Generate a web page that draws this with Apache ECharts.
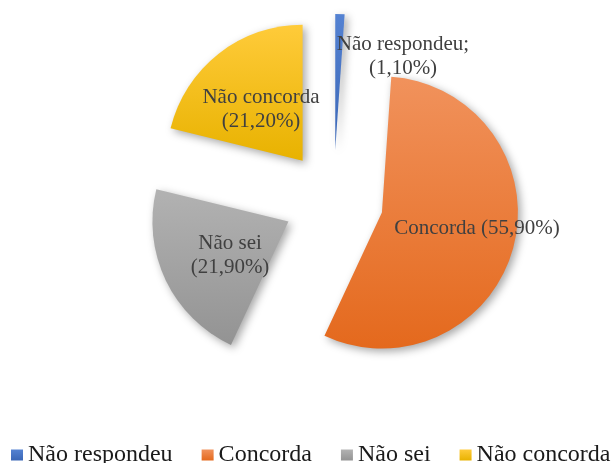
<!DOCTYPE html>
<html>
<head>
<meta charset="utf-8">
<script src="https://cdn.jsdelivr.net/npm/echarts@6/dist/echarts.min.js"></script>
<style>
  html, body { margin: 0; padding: 0; background: #fff; }
  #chart { width: 611px; height: 463px; }
</style>
</head>
<body>
<div id="chart"></div>
<script>
var categories = ['Não respondeu', 'Concorda', 'Não sei', 'Não concorda'];
var values = [1.1, 55.9, 21.9, 21.2];
// text between name and percentage in each slice label
var labelSeps = [';\n', ' ', '\n', '\n'];
var colorsTop = ['#5482d2', '#f1925c', '#b2b2b2', '#ffcb3a'];
var colorsBottom = ['#3a66b6', '#e4691d', '#939393', '#e8b200'];
// centre of each label text block
var labelPos = [[403, 56], [477, 228], [230, 255], [261, 109]];

function grad(i){
	return new echarts.graphic.LinearGradient(0, 0, 0, 1, [
		{offset: 0, color: colorsTop[i]},
		{offset: 1, color: colorsBottom[i]}
	]);
}

var chart = echarts.init(document.getElementById('chart'));

var pieData = [];
var labelData = [];
for(var i=0; i<categories.length; i++){
	pieData.push({
		name: categories[i],
		value: values[i],
		selected: true,
		itemStyle: {color: grad(i)}
	});
	labelData.push({name: categories[i], value: values[i]});
}

var option = {
	animation: false,
	legend: {
		top: 443,
		left: 11,
		padding: 0,
		icon: 'rect',
		itemWidth: 12,
		itemHeight: 11,
		itemGap: 29,
		selectedMode: false,
		textStyle: {
			fontFamily: 'Liberation Serif',
			fontSize: 24,
			color: '#1a1a1a'
		},
		data: categories
	},
	series: [
		{
			type: 'pie',
			center: [333.5, 200],
			radius: 136,
			startAngle: 90,
			clockwise: true,
			selectedMode: 'multiple',
			selectedOffset: 50,
			emphasis: {disabled: true},
			itemStyle: {
				shadowBlur: 8,
				shadowOffsetX: 3,
				shadowOffsetY: 3,
				shadowColor: 'rgba(0,0,0,0.35)'
			},
			label: {show: false},
			labelLine: {show: false},
			data: pieData
		},
		{
			// same slices, see-through, only to carry the labels
			type: 'pie',
			center: [333.5, 200],
			radius: 136,
			startAngle: 90,
			clockwise: true,
			silent: true,
			avoidLabelOverlap: false,
			emphasis: {disabled: true},
			itemStyle: {color: 'rgba(0,0,0,0)'},
			label: {
				show: true,
				position: 'inside',
				fontFamily: 'Liberation Serif',
				fontSize: 21,
				lineHeight: 24,
				color: '#404040',
				align: 'center',
				formatter: function(p){
					return p.name + labelSeps[p.dataIndex] + '(' + p.value.toFixed(2).replace('.', ',') + '%)';
				}
			},
			labelLine: {show: false},
			labelLayout: function(p){
				return {
					x: labelPos[p.dataIndex][0],
					y: labelPos[p.dataIndex][1],
					align: 'center',
					verticalAlign: 'middle'
				};
			},
			data: labelData
		}
	]
};

chart.setOption(option);
</script>
</body>
</html>
